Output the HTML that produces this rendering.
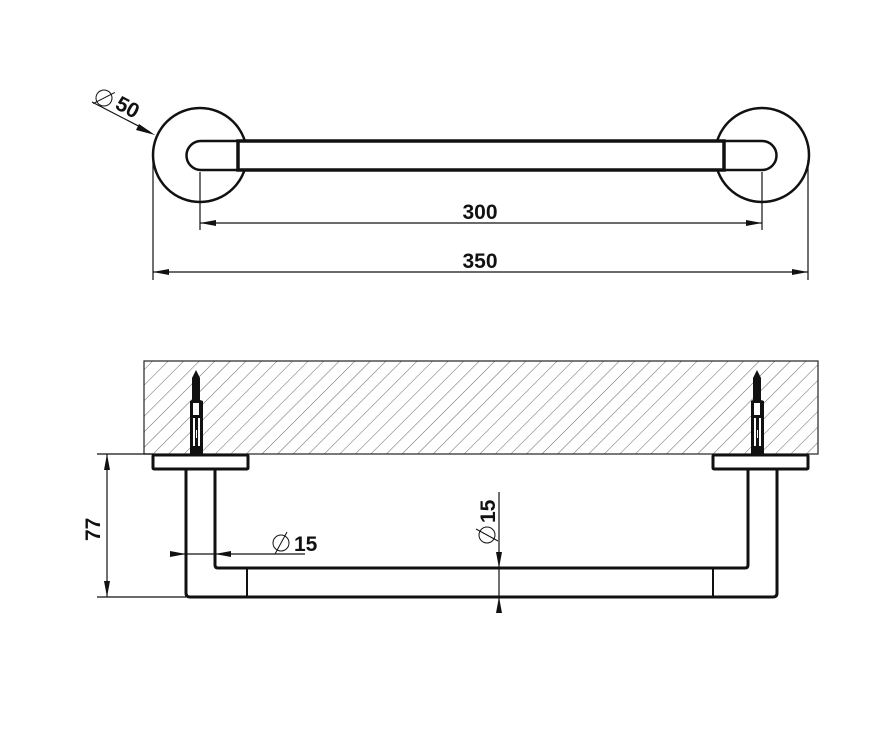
<!DOCTYPE html>
<html><head><meta charset="utf-8"><style>html,body{margin:0;padding:0;background:#fff}svg{display:block}</style></head>
<body>
<svg width="893" height="729" viewBox="0 0 893 729" xmlns="http://www.w3.org/2000/svg" font-family="Liberation Sans, Arial, sans-serif" font-weight="bold">
<defs>
<pattern id="h" patternUnits="userSpaceOnUse" width="11" height="11" patternTransform="rotate(45)">
<line x1="0" y1="0" x2="0" y2="11" stroke="#666" stroke-width="1"/>
</pattern>
<clipPath id="wc"><rect x="144" y="361" width="674" height="93"/></clipPath>
</defs>
<!-- TOP VIEW -->
<g fill="none" stroke="#111">
<circle cx="200" cy="155" r="47" stroke-width="2.5"/>
<circle cx="762" cy="155" r="47" stroke-width="2.5"/>
<path d="M238,141 H201 A14.5,14.5 0 0 0 201,170 H238" fill="#fff" stroke-width="2.5"/>
<path d="M724,141 H762 A14.5,14.5 0 0 1 762,170 H724" fill="#fff" stroke-width="2.5"/>
<rect x="238" y="141" width="486" height="29" fill="#fff" stroke-width="3.5"/>
<g stroke-width="1.2">
<line x1="200" y1="172" x2="200" y2="230"/>
<line x1="762" y1="172" x2="762" y2="230"/>
<line x1="200" y1="223" x2="762" y2="223"/>
<line x1="153" y1="160" x2="153" y2="280"/>
<line x1="808" y1="160" x2="808" y2="280"/>
<line x1="153" y1="272" x2="808" y2="272"/>
<line x1="92" y1="102" x2="150" y2="132"/>
</g>
</g>
<g fill="#111">
<polygon points="200,223 216,220 216,226"/>
<polygon points="762,223 746,220 746,226"/>
<polygon points="153,272 169,269 169,275"/>
<polygon points="808,272 792,269 792,275"/>
<polygon points="155,135 139,124 136,130"/>
</g>
<text x="480" y="219" font-size="21" text-anchor="middle" fill="#111">300</text>
<text x="480" y="268" font-size="21" text-anchor="middle" fill="#111">350</text>
<g transform="translate(114,108) rotate(28)">
<text x="0" y="0" font-size="21" fill="#111">50</text>
</g>
<g transform="translate(104,98) rotate(28)"><circle cx="0" cy="0" r="8" fill="none" stroke="#111" stroke-width="1"/><line x1="-7" y1="10" x2="7" y2="-10" stroke="#111" stroke-width="1"/></g>
<!-- WALL -->
<rect x="144" y="361" width="674" height="93" fill="url(#h)" clip-path="url(#wc)"/>
<rect x="144" y="361" width="674" height="93" fill="none" stroke="#222" stroke-width="1.2"/>
<!-- screws -->
<g fill="#111">
<path d="M196,370 L200,378 L200,400 L203,401 L203,454 L190,454 L190,401 L192,400 L192,378 Z"/>
<path d="M757,370 L761,378 L761,400 L764,401 L764,454 L751,454 L751,401 L753,400 L753,378 Z"/>
</g>
<g fill="#fff">
<rect x="193" y="403" width="6" height="12"/><rect x="193" y="418" width="2" height="28"/><rect x="198" y="418" width="2" height="28"/><rect x="196" y="430" width="1" height="8"/>
<rect x="754" y="403" width="6" height="12"/><rect x="754" y="418" width="2" height="28"/><rect x="759" y="418" width="2" height="28"/><rect x="757" y="430" width="1" height="8"/>
</g>
<!-- bar side -->
<g fill="none" stroke="#111" stroke-width="3">
<rect x="153" y="455" width="95" height="14" rx="1"/>
<rect x="713" y="455" width="95" height="14" rx="1"/>
<path d="M186,469 V593 Q186,597 190,597 H773 Q777,597 777,593 V469"/>
<path d="M215,469 V565 Q215,568 218,568 H745 Q748,568 748,565 V469"/>
<line x1="247" y1="568" x2="247" y2="597" stroke-width="2"/>
<line x1="713" y1="568" x2="713" y2="597" stroke-width="2"/>
</g>
<g stroke="#111" stroke-width="1.2">
<line x1="97" y1="454" x2="153" y2="454"/>
<line x1="97" y1="597" x2="186" y2="597"/>
<line x1="107" y1="454" x2="107" y2="597"/>
<line x1="170" y1="554" x2="305" y2="554"/>
<line x1="499" y1="492" x2="499" y2="608"/>
</g>
<g fill="#111">
<polygon points="107,454 104,470 110,470"/>
<polygon points="107,597 104,581 110,581"/>
<polygon points="186,554 170,551 170,557"/>
<polygon points="215,554 231,551 231,557"/>
<polygon points="499,568 496,552 502,552"/>
<polygon points="499,597 496,613 502,613"/>
</g>
<text transform="translate(100,541) rotate(-90)" font-size="21" fill="#111">77</text>
<g stroke="#111" stroke-width="1" fill="none"><circle cx="281" cy="543" r="8"/><line x1="275" y1="554" x2="287" y2="532"/></g>
<text x="294" y="551" font-size="21" fill="#111">15</text>
<g stroke="#111" stroke-width="1" fill="none"><circle cx="487" cy="535" r="8"/><line x1="476" y1="529" x2="498" y2="541"/></g>
<text transform="translate(495,523) rotate(-90)" font-size="21" fill="#111">15</text>
</svg>
</body></html>
